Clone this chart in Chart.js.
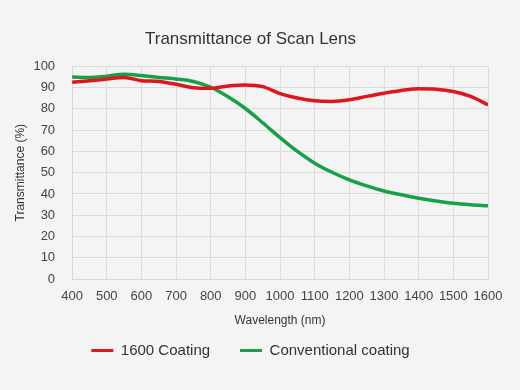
<!DOCTYPE html>
<html>
<head>
<meta charset="utf-8">
<script src="https://cdn.jsdelivr.net/npm/chart.js@4.4.1/dist/chart.umd.min.js"></script>
<style>
  html, body { margin: 0; padding: 0; background: #f4f4f4; }
  #wrap { width: 520px; height: 390px; }
</style>
</head>
<body>
<div id="wrap"><canvas id="chart" width="520" height="390"></canvas></div>
<script>
// wavelengths sampled every 50 nm
const wavelengths = [400, 450, 500, 550, 600, 650, 700, 750, 800, 850, 900, 950, 1000,
  1050, 1100, 1150, 1200, 1250, 1300, 1350, 1400, 1450, 1500, 1550, 1600];
const coating1600 = [92.5, 93.2, 94.1, 94.8, 93.3, 92.9, 91.6, 90.0, 89.7, 90.8, 91.3, 90.5, 87.2,
  85.1, 83.8, 83.5, 84.3, 85.9, 87.4, 88.7, 89.5, 89.3, 88.2, 85.9, 81.9];
const conventional = [95.0, 94.8, 95.4, 96.3, 95.7, 94.8, 94.1, 92.9, 90.2, 85.7, 80.2, 73.5, 66.5,
  60.0, 54.5, 50.2, 46.6, 43.8, 41.4, 39.6, 38.0, 36.7, 35.6, 34.9, 34.4];
const xTicks = [400, 500, 600, 700, 800, 900, 1000, 1100, 1200, 1300, 1400, 1500, 1600];
const yTicks = [0, 10, 20, 30, 40, 50, 60, 70, 80, 90, 100];

const font = '"Liberation Sans", Arial, Helvetica, sans-serif';
const RED = '#e0161e';
const GREEN = '#17a047';

function toPoints(vals) {
  return wavelengths.map((w, i) => ({ x: w, y: vals[i] }));
}

// paint the page background on the canvas too
const bgPlugin = {
  id: 'bg',
  beforeDraw(chart) {
    const c = chart.ctx;
    c.save();
    c.fillStyle = '#f4f4f4';
    c.fillRect(0, 0, chart.width, chart.height);
    c.restore();
  }
};

new Chart(document.getElementById('chart'), {
  type: 'line',
  data: {
    datasets: [
      {
        label: '1600 Coating',
        data: toPoints(coating1600),
        borderColor: RED,
        backgroundColor: RED,
        borderWidth: 3.5,
        pointRadius: 0,
        tension: 0.4,
        cubicInterpolationMode: 'monotone'
      },
      {
        label: 'Conventional coating',
        data: toPoints(conventional),
        borderColor: GREEN,
        backgroundColor: GREEN,
        borderWidth: 3.5,
        pointRadius: 0,
        tension: 0.4,
        cubicInterpolationMode: 'monotone'
      }
    ]
  },
  options: {
    responsive: false,
    animation: false,
    layout: { padding: { top: 29, left: 13, right: 32, bottom: 22 } },
    plugins: {
      title: {
        display: true,
        text: 'Transmittance of Scan Lens',
        color: '#333',
        font: { family: font, size: 17, weight: 'normal' },
        padding: { top: 0, bottom: 17 }
      },
      legend: {
        position: 'bottom',
        labels: {
          color: '#333',
          font: { family: font, size: 15 },
          boxWidth: 22,
          boxHeight: 3,
          padding: 30,
          generateLabels(chart) {
            return Chart.defaults.plugins.legend.labels.generateLabels(chart)
              .map(l => Object.assign(l, { lineWidth: 0 }));
          }
        }
      },
      tooltip: { enabled: false }
    },
    scales: {
      x: {
        type: 'linear',
        min: 400,
        max: 1600,
        border: { color: '#d6d6d6' },
        grid: { color: '#dcdcdc', tickLength: 0 },
        afterBuildTicks(scale) {
          scale.ticks = xTicks.map(v => ({ value: v }));
        },
        ticks: {
          color: '#444',
          padding: 10,
          maxRotation: 0,
          autoSkip: false,
          callback: v => String(v),
          font: { family: font, size: 13 }
        },
        title: {
          display: true,
          text: 'Wavelength (nm)',
          color: '#333',
          font: { family: font, size: 12 },
          padding: { top: -1, bottom: -15 }
        }
      },
      y: {
        min: 0,
        max: 100,
        border: { color: '#d6d6d6' },
        grid: { color: '#dcdcdc', tickLength: 0 },
        afterBuildTicks(scale) {
          scale.ticks = yTicks.map(v => ({ value: v }));
        },
        ticks: {
          color: '#444',
          padding: 17,
          autoSkip: false,
          callback: v => String(v),
          font: { family: font, size: 13 }
        },
        title: {
          display: true,
          text: 'Transmittance (%)',
          color: '#333',
          font: { family: font, size: 12 },
          padding: { top: 0, bottom: -11 }
        }
      }
    }
  },
  plugins: [bgPlugin]
});
</script>
</body>
</html>
